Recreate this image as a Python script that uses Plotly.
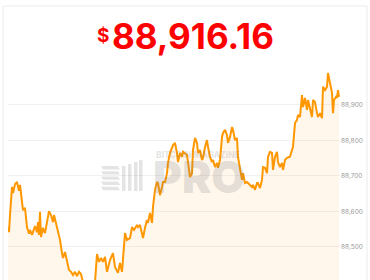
import plotly.graph_objects as go

# minutes since start of window
minutes = [0, 1, 2, 4, 5, 7, 9, 11, 12, 14, 15, 17, 18, 19, 21, 22, 24, 26, 27, 29, 30, 31, 32, 33,
           35, 37, 39, 41, 43, 45, 46, 48, 50, 52, 54, 55, 57, 59, 61, 63, 65, 67, 69, 71, 73, 75,
           77, 80, 82, 85, 87, 89, 91, 93, 95, 97, 99, 102, 105, 107, 110, 112, 114, 117, 119, 122,
           124, 126, 129, 130, 132, 134, 135, 137, 139, 140, 142, 144, 145, 147, 149, 150, 152, 154,
           155, 157, 159, 160, 162, 165, 167, 169, 170, 172, 174, 175, 179, 180, 182, 184, 185, 187,
           189, 190, 192, 194, 195, 197, 199, 200, 202, 204, 205, 207, 209, 210, 212, 214, 215, 217,
           219, 220, 222, 224, 225, 227, 229, 230, 232, 234, 235, 237, 239, 240, 242, 244, 245, 247,
           249, 250, 252, 254, 255, 257, 259, 260, 262, 264, 265, 267, 269, 270, 272, 274, 275, 277,
           279, 282, 284, 285, 287, 289, 290, 292, 294, 295, 297, 299, 300, 302, 304, 305, 307, 309,
           310, 312, 314, 315, 317, 319, 320, 322, 324, 325, 326, 328, 329, 330, 331]

prices = [88556, 88542, 88590, 88669, 88652, 88677, 88683, 88658, 88675, 88632, 88604, 88610, 88590,
          88556, 88537, 88548, 88534, 88548, 88559, 88542, 88570, 88534, 88599, 88528, 88554, 88539,
          88568, 88601, 88590, 88570, 88590, 88565, 88542, 88520, 88483, 88469, 88486, 88458, 88435,
          88430, 88421, 88430, 88418, 88430, 88424, 88401, 88384, 88373, 88379, 88390, 88401, 88480,
          88458, 88469, 88458, 88472, 88430, 88463, 88483, 88444, 88427, 88455, 88430, 88539, 88520,
          88525, 88556, 88548, 88562, 88556, 88562, 88539, 88525, 88554, 88576, 88568, 88596, 88568,
          88613, 88661, 88683, 88680, 88646, 88669, 88683, 88683, 88708, 88737, 88765, 88787, 88793,
          88765, 88739, 88765, 88754, 88768, 88759, 88739, 88697, 88708, 88773, 88807, 88793, 88765,
          88773, 88745, 88751, 88782, 88801, 88782, 88754, 88739, 88745, 88725, 88737, 88723, 88745,
          88810, 88821, 88830, 88815, 88793, 88810, 88838, 88830, 88801, 88807, 88754, 88717, 88689,
          88708, 88680, 88683, 88680, 88675, 88669, 88675, 88661, 88680, 88680, 88666, 88689, 88725,
          88723, 88708, 88754, 88768, 88765, 88717, 88754, 88768, 88739, 88725, 88737, 88717, 88745,
          88751, 88754, 88773, 88782, 88849, 88858, 88872, 88866, 88928, 88894, 88920, 88886, 88914,
          88886, 88866, 88914, 88908, 88877, 88866, 88877, 88863, 88951, 88942, 88951, 88990, 88962,
          88934, 88877, 88914, 88923, 88920, 88942, 88923]

tick_values = [88400, 88500, 88600, 88700, 88800, 88900]
headline_price = "88,916.16"
watermark_brand = "BITCOIN MAGAZINE"
watermark_word = "PRO"

W, H = 370, 280
L, R, T, B = 8, 30, 62, 0
PW, PH = W - L - R, H - T - B


def px(x):
    return (x - L) / PW


def py(y):
    return (H - B - y) / PH


n = min(len(minutes), len(prices))
fig = go.Figure()
fig.add_trace(go.Scatter(
    x=minutes[:n], y=prices[:n], mode="lines",
    line=dict(color="#ff9800", width=2),
    fill="tozeroy", fillcolor="rgba(255,160,40,0.09)",
    hoverinfo="skip", showlegend=False,
))

shapes = []
# card border
shapes.append(dict(type="rect", xref="paper", yref="paper",
                   x0=px(3), x1=px(367), y0=py(300), y1=py(6),
                   line=dict(color="#ececec", width=1), layer="below"))
# watermark logo: horizontal stripes and vertical bars
wm = "rgba(120,120,120,0.2)"
for i in range(5):
    y0 = 166 + i * 5.2
    shapes.append(dict(type="path", xref="paper", yref="paper",
                       path=f"M {px(101)},{py(y0)} L {px(118)},{py(y0)} L {px(120)},{py(y0+3.4)} L {px(103)},{py(y0+3.4)} Z",
                       fillcolor=wm, line=dict(width=0), layer="above"))
for bx, top in [(122, 166), (128, 164), (134, 162), (139, 160)]:
    shapes.append(dict(type="rect", xref="paper", yref="paper",
                       x0=px(bx), x1=px(bx + 3.5), y0=py(191), y1=py(top),
                       fillcolor=wm, line=dict(width=0), layer="above"))

annotations = [
    dict(text="$", xref="paper", yref="paper", x=px(102.5), y=py(35.5),
         showarrow=False, xanchor="center", yanchor="middle",
         font=dict(family="Inter", size=19, color="#ff0000", weight=700)),
    dict(text=headline_price, xref="paper", yref="paper", x=px(192.5), y=py(36),
         showarrow=False, xanchor="center", yanchor="middle",
         font=dict(family="Inter", size=35, color="#ff0000", weight=700)),
    dict(text=watermark_brand, xref="paper", yref="paper", x=px(198), y=py(155),
         showarrow=False, xanchor="center", yanchor="middle",
         font=dict(family="Inter", size=8.5, color=wm, weight=800)),
    dict(text=watermark_word, xref="paper", yref="paper", x=px(199), y=py(176.5),
         showarrow=False, xanchor="center", yanchor="middle",
         font=dict(family="Inter", size=44, color=wm, weight=900)),
]

fig.update_layout(
    width=W, height=H,
    margin=dict(l=L, r=R, t=T, b=B),
    paper_bgcolor="white", plot_bgcolor="white",
    shapes=shapes, annotations=annotations,
    xaxis=dict(range=[0, 332], visible=False, fixedrange=True),
    yaxis=dict(range=[88407, 89021], side="right", tickvals=tick_values,
               tickprefix="$", tickformat=",", showgrid=True, gridcolor="#f1f1f1",
               gridwidth=1, zeroline=False, showline=False, ticks="",
               tickfont=dict(family="Inter", size=6.5, color="#9a9a9a"),
               fixedrange=True),
)

fig.write_html("out.html")
